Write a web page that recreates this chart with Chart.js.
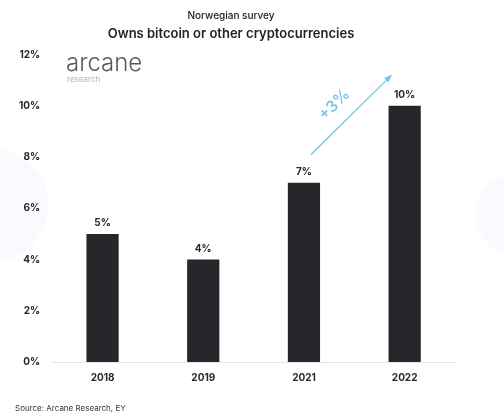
<!DOCTYPE html>
<html>
<head>
<meta charset="utf-8">
<script src="https://cdn.jsdelivr.net/npm/chart.js@4.4.1/dist/chart.umd.min.js"></script>
<style>
    html, body { margin: 0; padding: 0; background: #fff; }
    #wrap { width: 504px; height: 420px; position: relative; }
</style>
</head>
<body>
<div id="wrap"><canvas id="chart"></canvas></div>
<script>
// Chart data
const years = ['2018', '2019', '2021', '2022'];
const ownsCrypto = [5, 4, 7, 10];
const yTicks = [0, 2, 4, 6, 8, 10, 12];

const FONT = 'Inter, "Noto Sans", sans-serif';
const DARK = '#25272a';
const BLUE = '#6cc6e8';

// Labels on top of bars, logo, arrow and source line
const extras = {
    id: 'extras',
    beforeDraw(chart) {
        const ctx = chart.ctx;
        // faint background blobs
        ctx.save();
        ctx.fillStyle = 'rgba(246, 248, 252, 0.7)';
        ctx.beginPath();
        ctx.arc(-10, 205, 58, 0, Math.PI * 2);
        ctx.fill();
        ctx.beginPath();
        ctx.arc(515, 215, 40, 0, Math.PI * 2);
        ctx.fill();
        ctx.restore();
    },
    afterDatasetsDraw(chart) {
        const ctx = chart.ctx;
        const x = chart.scales.x;
        const y = chart.scales.y;
        const meta = chart.getDatasetMeta(0);

        ctx.save();
        ctx.fillStyle = DARK;
        ctx.font = 'bold 10px ' + FONT;
        ctx.textAlign = 'center';
        ctx.textBaseline = 'bottom';
        meta.data.forEach((bar, i) => {
            ctx.fillText(ownsCrypto[i] + '%', bar.x, bar.y - 6);
        });

        // logo
        ctx.textAlign = 'left';
        ctx.textBaseline = 'alphabetic';
        ctx.fillStyle = '#5a5a5a';
        ctx.font = '300 24px ' + FONT;
        ctx.fillText('arcane', 66, 71);
        ctx.fillStyle = '#b5b5b5';
        ctx.font = '8px ' + FONT;
        ctx.fillText('research', 67, 82);

        // +3% arrow between 2021 and 2022
        const x0 = x.getPixelForValue(2.07), y0 = y.getPixelForValue(8.1);
        const x1 = x.getPixelForValue(2.87), y1 = y.getPixelForValue(11.2);
        ctx.strokeStyle = BLUE;
        ctx.fillStyle = BLUE;
        ctx.lineWidth = 1.3;
        ctx.beginPath();
        ctx.moveTo(x0, y0);
        ctx.lineTo(x1, y1);
        ctx.stroke();
        const ang = Math.atan2(y1 - y0, x1 - x0);
        ctx.beginPath();
        ctx.moveTo(x1, y1);
        ctx.lineTo(x1 - 8 * Math.cos(ang - 0.4), y1 - 8 * Math.sin(ang - 0.4));
        ctx.lineTo(x1 - 8 * Math.cos(ang + 0.4), y1 - 8 * Math.sin(ang + 0.4));
        ctx.closePath();
        ctx.fill();

        ctx.translate((x0 + x1) / 2 - 17, (y0 + y1) / 2 - 10);
        ctx.rotate(ang);
        ctx.textAlign = 'center';
        ctx.textBaseline = 'middle';
        ctx.font = '500 16px ' + FONT;
        ctx.fillText('+3%', 0, 0);
        ctx.restore();

        // source
        ctx.save();
        ctx.fillStyle = '#333';
        ctx.font = '8px ' + FONT;
        ctx.textAlign = 'left';
        ctx.textBaseline = 'middle';
        ctx.fillText('Source: Arcane Research, EY', 15, 409);
        ctx.restore();
    }
};

new Chart(document.getElementById('chart'), {
    type: 'bar',
    data: {
        labels: years,
        datasets: [{
            data: ownsCrypto,
            backgroundColor: DARK,
            barPercentage: 0.32,
            categoryPercentage: 1
        }]
    },
    options: {
        responsive: true,
        maintainAspectRatio: false,
        animation: false,
        layout: { padding: { left: 7, right: 49, top: 0, bottom: 26 } },
        plugins: {
            legend: { display: false },
            tooltip: { enabled: false },
            title: {
                display: true,
                text: 'Norwegian survey',
                color: '#222',
                font: { family: FONT, size: 10, weight: '500' },
                padding: { top: 10, bottom: 4 }
            },
            subtitle: {
                display: true,
                text: 'Owns bitcoin or other cryptocurrencies',
                color: '#222',
                font: { family: FONT, size: 13, weight: '600' },
                padding: { top: 0, bottom: 13 }
            }
        },
        scales: {
            x: {
                grid: { display: false, drawTicks: false },
                border: { display: true, color: '#e4e6ea' },
                ticks: {
                    color: DARK,
                    font: { family: FONT, size: 10, weight: 'bold' },
                    padding: 10
                }
            },
            y: {
                min: 0,
                max: 12,
                afterBuildTicks(axis) {
                    axis.ticks = yTicks.map(v => ({ value: v }));
                },
                grid: { display: false, drawTicks: false },
                border: { display: false },
                ticks: {
                    color: DARK,
                    font: { family: FONT, size: 10, weight: 'bold' },
                    padding: 12,
                    callback: v => v + '%'
                }
            }
        }
    },
    plugins: [extras]
});
</script>
</body>
</html>
